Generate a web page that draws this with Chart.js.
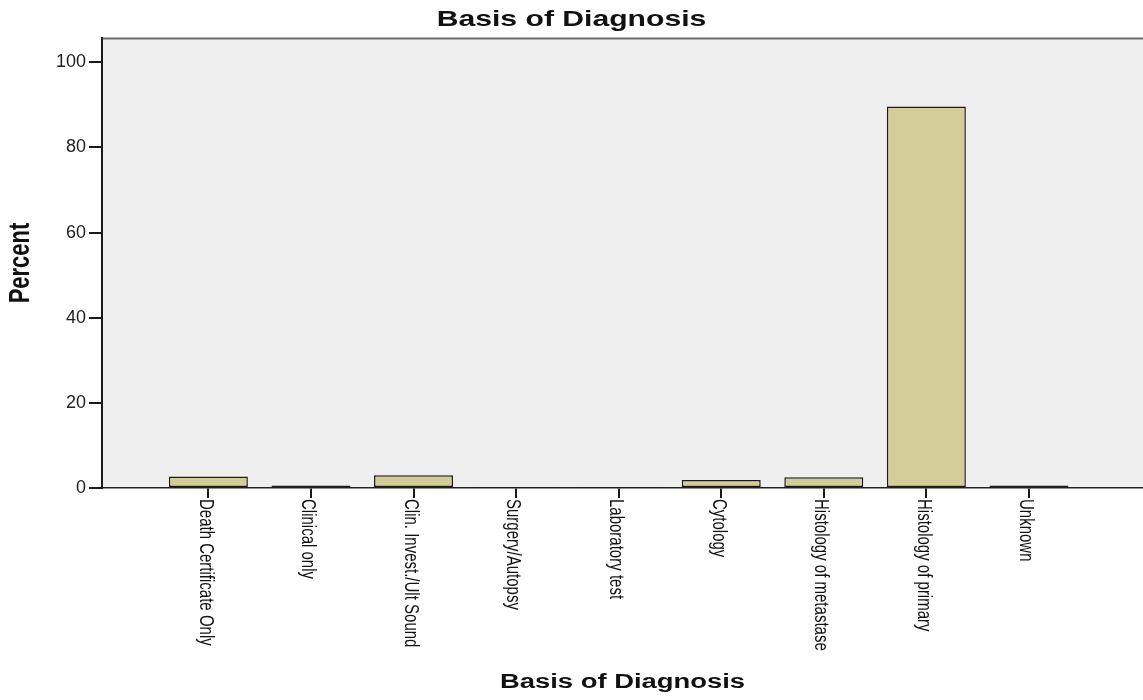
<!DOCTYPE html>
<html>
<head>
<meta charset="utf-8">
<script src="https://cdn.jsdelivr.net/npm/chart.js@4/dist/chart.umd.min.js"></script>
<style>
  html, body { margin: 0; padding: 0; background: #fff; }
  #wrap { width: 1143px; height: 700px; }
</style>
</head>
<body>
<div id="wrap"><canvas id="chartDiag" width="1143" height="700"></canvas></div>
<script>
/* DATOS */
const categorias = ['Death Certificate Only', 'Clinical only', 'Clin. Invest./Ult Sound', 'Surgery/Autopsy',
  'Laboratory test', 'Cytology', 'Histology of metastase', 'Histology of primary', 'Unknown'];
const porcentajes = [2.7, 0.6, 3.0, 0.1, 0.1, 1.9, 2.5, 89.6, 0.6];
const ticksY = [0, 20, 40, 60, 80, 100];

const titulo = 'Basis of Diagnosis';
const tituloX = 'Basis of Diagnosis';
const tituloY = 'Percent';

// la imagen original esta estirada en horizontal
const ESTIRA = 1.37;

function texto(ctx, str, x, y, rot, font, align, base) {
  ctx.save();
  ctx.translate(x, y);
  ctx.scale(ESTIRA, 1);
  ctx.rotate(rot);
  ctx.font = font;
  ctx.fillStyle = '#111';
  ctx.textAlign = align;
  ctx.textBaseline = base;
  ctx.fillText(str, 0, 0);
  ctx.restore();
}

/* fondo gris del area y textos */
const fondoPlugin = {
  id: 'fondo',
  beforeDraw(chart) {
    const { ctx, chartArea: a } = chart;
    ctx.save();
    ctx.fillStyle = '#efefef';
    ctx.fillRect(a.left, a.top, a.right - a.left, a.bottom - a.top);
    ctx.strokeStyle = '#6e6e6e';
    ctx.lineWidth = 2;
    ctx.beginPath();
    ctx.moveTo(a.left, a.top + 0.5);
    ctx.lineTo(a.right, a.top + 0.5);
    ctx.stroke();
    ctx.restore();
  },
  afterDraw(chart) {
    const { ctx, chartArea: a } = chart;
    const xs = chart.scales.x;
    categorias.forEach((c, i) => {
      const px = xs.getPixelForValue(i);
      texto(ctx, c, px - 3, a.bottom + 11, Math.PI / 2, '15px "Liberation Sans", Arial, sans-serif', 'left', 'middle');
    });
    texto(ctx, titulo, chart.width / 2, 20, 0, 'bold 22px "Liberation Sans", Arial, sans-serif', 'center', 'middle');
    texto(ctx, tituloX, (a.left + a.right) / 2, 682, 0, 'bold 20px "Liberation Sans", Arial, sans-serif', 'center', 'middle');
    texto(ctx, tituloY, 21, (a.top + a.bottom) / 2, -Math.PI / 2, 'bold 22px "Liberation Sans", Arial, sans-serif', 'center', 'middle');
  },
};

function renderChartDiag() {
  const ctx = document.getElementById('chartDiag').getContext('2d');

  window.chartDiag = new Chart(ctx, {
    type: 'bar',
    data: {
      datasets: [{
        label: 'Percent',
        data: porcentajes.map((v, i) => ({ x: i, y: v })),
        backgroundColor: '#d3ce98',
        borderColor: '#1c1c1c',
        borderWidth: 1.5,
        borderSkipped: false,
        categoryPercentage: 1,
        barPercentage: 0.77,
      }],
    },
    options: {
      responsive: false,
      animation: false,
      layout: { padding: { top: 38, left: 0, right: 0, bottom: 0 } },
      plugins: {
        legend: { display: false },
        title: { display: false },
        tooltip: { enabled: false },
      },
      scales: {
        x: {
          type: 'linear',
          offset: false,
          min: -1.037,
          max: 9.112,
          afterBuildTicks: (s) => { s.ticks = categorias.map((c, i) => ({ value: i })); },
          afterFit: (s) => { s.height = 212; },
          ticks: { display: false },
          grid: { offset: false, drawOnChartArea: false, drawTicks: true, tickLength: 10, color: '#1a1a1a', lineWidth: 2 },
          border: { display: true, color: '#222', width: 1.5 },
        },
        y: {
          min: 0,
          max: 105.7,
          afterBuildTicks: (s) => { s.ticks = ticksY.map(v => ({ value: v })); },
          afterFit: (s) => { s.width = 102; },
          ticks: {
            color: '#222',
            padding: 3,
            font: { family: '"Liberation Sans", Arial, sans-serif', size: 18 },
          },
          grid: { drawOnChartArea: false, drawTicks: true, tickLength: 13, color: '#1a1a1a', lineWidth: 2 },
          border: { display: true, color: '#1a1a1a', width: 2 },
        },
      },
    },
    plugins: [fondoPlugin],
  });
}

/* INIT */
renderChartDiag();
</script>
</body>
</html>
